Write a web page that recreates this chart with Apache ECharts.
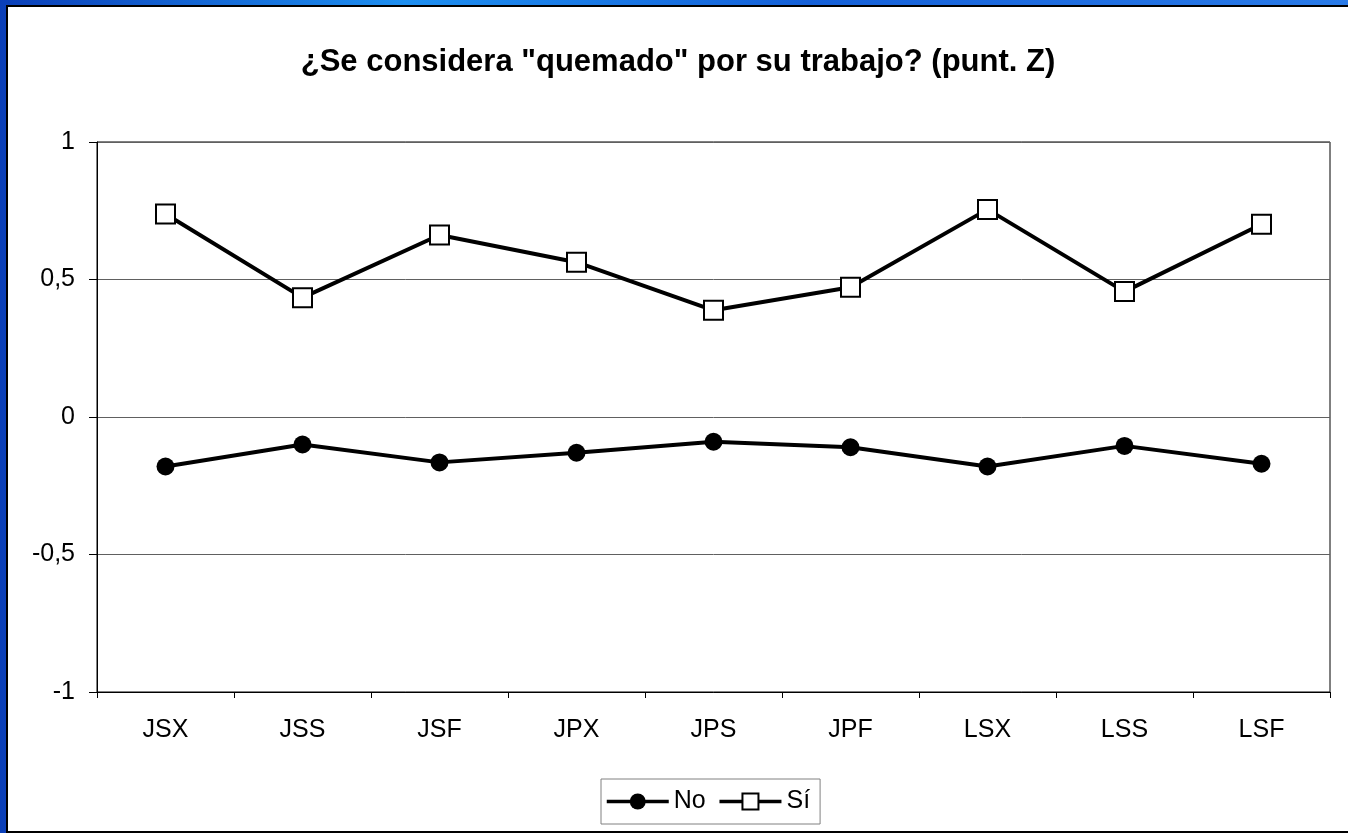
<!DOCTYPE html>
<html>
<head>
<meta charset="utf-8">
<script src="https://cdn.jsdelivr.net/npm/echarts@6/dist/echarts.min.js"></script>
<style>
html, body { margin: 0; padding: 0; width: 1348px; height: 833px; overflow: hidden; }
body { background: linear-gradient(90deg, #0b3fb8 0%, #1e8ff0 30%, #1560d8 60%, #2a7be8 100%); position: relative; }
#chart { position: absolute; left: 6px; top: 5px; width: 1342px; height: 828px; box-sizing: border-box;
  border-left: 2px solid #000; border-top: 2px solid #000; border-bottom: 2px solid #000; background: #fff; }
</style>
</head>
<body>
<div id="chart"></div>
<script>
// categorias y valores (puntuaciones Z)
var categorias = ['JSX', 'JSS', 'JSF', 'JPX', 'JPS', 'JPF', 'LSX', 'LSS', 'LSF'];
var valoresNo = [-0.18, -0.10, -0.165, -0.13, -0.09, -0.11, -0.18, -0.105, -0.17];
var valoresSi = [0.738, 0.434, 0.662, 0.563, 0.388, 0.472, 0.755, 0.456, 0.701];
var ticksY = [-1, -0.5, 0, 0.5, 1];

var fuente = '"Liberation Sans", Arial, sans-serif';

var grafico = echarts.init(document.getElementById('chart'));

var option = {
    backgroundColor: '#fff',
    animation: false,
    title: {
        text: '¿Se considera "quemado" por su trabajo? (punt. Z)',
        left: 'center',
        top: 35,
        textStyle: { fontFamily: fuente, fontSize: 31, fontWeight: 'bold', color: '#000' }
    },
    legend: {
        data: ['No', 'Sí'],
        bottom: 7,
        left: 593,
        itemWidth: 62,
        itemHeight: 20,
        itemGap: 12,
        padding: [10, 10, 10, 4],
        borderColor: '#808080',
        borderWidth: 1,
        lineStyle: { width: 3.5 },
        textStyle: { fontFamily: fuente, fontSize: 25, color: '#000' }
    },
    grid: {
        show: true,
        left: 89,
        right: 18,
        top: 135,
        bottom: 139,
        borderColor: '#000',
        borderWidth: 1
    },
    xAxis: {
        type: 'category',
        data: categorias,
        boundaryGap: true,
        axisLine: { onZero: false, lineStyle: { color: '#000', width: 1 } },
        axisTick: { show: true, length: 6, lineStyle: { color: '#000' } },
        axisLabel: { fontFamily: fuente, fontSize: 25, color: '#000', margin: 26 }
    },
    yAxis: {
        type: 'value',
        min: ticksY[0],
        max: ticksY[ticksY.length - 1],
        interval: 0.5,
        axisLine: { show: true, lineStyle: { color: '#000', width: 1 } },
        axisTick: { show: true, length: 8, lineStyle: { color: '#000' } },
        splitLine: { show: true, lineStyle: { color: '#606060', width: 1 } },
        axisLabel: {
            fontFamily: fuente, fontSize: 25, color: '#000', margin: 22,
            formatter: function (v) { return String(v).replace('.', ','); }
        }
    },
    series: [
        {
            name: 'No',
            type: 'line',
            data: valoresNo,
            symbol: 'circle',
            symbolSize: 18,
            lineStyle: { color: '#000', width: 4 },
            itemStyle: { color: '#000', borderColor: '#000', borderWidth: 0 }
        },
        {
            name: 'Sí',
            type: 'line',
            data: valoresSi,
            symbol: 'rect',
            symbolSize: 19,
            lineStyle: { color: '#000', width: 4 },
            itemStyle: { color: '#fff', borderColor: '#000', borderWidth: 2 }
        }
    ]
};

grafico.setOption(option);
</script>
</body>
</html>
